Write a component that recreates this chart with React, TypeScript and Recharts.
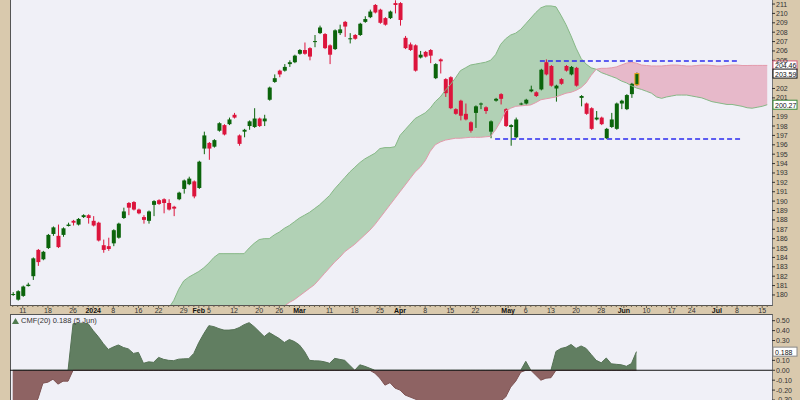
import React from 'react';
import { ComposedChart, Bar, Area, Line, XAxis, YAxis, ReferenceLine, ReferenceDot } from 'recharts';

// daily candles, index 0 = first visible session
const opens = [
  180.0, 179.5, 179.9, 180.95, 182.0, 184.8, 183.8, 185.0, 186.5, 186.3,
  186.4, 187.35, 187.9, 187.5, 188.3, 188.5, 187.9, 187.7, 185.3, 185.2,
  185.5, 186.1, 188.2, 189.8, 189.9, 189.1, 188.3, 187.9, 189.6, 190.1,
  190.2, 189.8, 189.4, 190.2, 191.3, 191.8, 192.1, 191.4, 195.6, 196.2,
  195.8, 197.5, 198.1, 198.2, 199.2, 197.0, 197.4, 198.0, 197.9, 198.8,
  198.5, 200.8, 202.7, 203.9, 203.9, 204.6, 204.8, 205.7, 206.1, 206.3,
  206.95, 207.9, 207.8, 206.6, 206.2, 207.9, 209.1, 207.25, 207.7, 207.7,
  209.1, 209.6, 210.9, 210.4, 209.5, 209.5, 211.1, 211.1, 207.4, 206.7,
  206.6, 205.3, 205.9, 206.1, 203.1, 205.1, 203.0, 203.2, 199.8, 200.7,
  199.3, 198.4, 199.4, 200.3, 200.0, 197.4, 200.7, 201.4, 199.8, 197.9,
  196.8, 200.3, 200.4, 201.7, 201.6, 201.9, 204.8, 204.4, 202.0, 203.0,
  204.4, 203.5, 204.2, 201.0, 200.4, 199.9, 198.7, 198.9, 196.7, 197.9,
  197.7, 200.4, 199.8, 201.4, 202.4,
];
const highs = [
  180.3, 180.5, 181.0, 181.3, 184.0, 184.9, 184.7, 186.5, 187.3, 187.5,
  187.2, 187.7, 188.0, 188.2, 188.6, 188.6, 188.4, 187.8, 185.9, 186.1,
  187.0, 187.7, 189.3, 189.9, 190.0, 189.2, 188.5, 189.0, 190.1, 190.2,
  190.3, 190.2, 189.5, 191.0, 192.3, 192.6, 192.2, 194.3, 197.4, 196.3,
  196.6, 198.4, 198.2, 198.9, 199.4, 197.1, 197.7, 198.6, 199.9, 198.9,
  199.2, 202.2, 203.5, 204.0, 204.6, 205.0, 205.6, 206.2, 206.9, 206.4,
  207.7, 208.7, 207.9, 206.7, 208.3, 208.8, 209.2, 207.9, 207.8, 209.0,
  209.7, 210.4, 211.0, 210.5, 209.6, 210.3, 211.4, 211.2, 207.6, 206.9,
  206.7, 206.0, 206.0, 206.2, 204.7, 205.2, 203.1, 203.3, 199.9, 200.8,
  200.4, 198.5, 200.2, 200.5, 200.1, 198.6, 201.0, 201.5, 199.9, 198.2,
  198.9, 200.5, 200.9, 202.3, 201.7, 204.1, 205.1, 204.5, 202.4, 203.1,
  204.5, 204.4, 204.3, 201.3, 200.5, 200.0, 199.6, 199.0, 197.8, 199.4,
  200.5, 200.8, 201.4, 202.6, 203.7,
];
const lows = [
  179.9, 179.4, 179.8, 180.9, 181.6, 183.1, 183.7, 184.9, 186.3, 185.0,
  186.2, 187.3, 187.4, 187.4, 188.2, 187.6, 187.3, 185.7, 184.5, 184.7,
  185.2, 186.0, 188.1, 188.5, 189.0, 188.6, 187.6, 187.6, 188.4, 189.6,
  188.7, 189.0, 188.4, 190.1, 190.8, 191.7, 190.3, 191.3, 195.0, 194.4,
  195.7, 197.4, 197.0, 198.1, 198.8, 195.9, 196.8, 197.6, 197.8, 197.9,
  198.0, 200.7, 202.6, 203.2, 203.8, 204.3, 204.7, 205.6, 205.6, 205.0,
  206.4, 207.8, 206.2, 204.6, 206.1, 207.7, 207.5, 206.8, 207.2, 207.6,
  209.0, 209.5, 210.0, 208.9, 208.7, 209.4, 210.0, 208.7, 206.2, 206.0,
  203.8, 205.2, 205.3, 204.7, 203.0, 203.6, 201.1, 199.8, 199.2, 198.6,
  198.6, 197.3, 197.8, 199.8, 199.3, 196.7, 200.6, 200.3, 197.9, 195.9,
  196.7, 200.2, 200.3, 201.6, 201.1, 201.8, 203.4, 202.2, 200.6, 202.4,
  203.8, 203.4, 202.2, 200.1, 199.2, 197.6, 198.6, 198.1, 196.6, 197.8,
  197.6, 199.8, 199.7, 201.0, 202.3,
];
const closes = [
  180.1, 180.4, 180.9, 181.1, 183.9, 183.5, 184.6, 186.4, 187.2, 185.1,
  187.1, 187.5, 187.7, 188.1, 188.5, 188.2, 187.4, 185.8, 184.8, 184.9,
  186.9, 187.6, 188.9, 189.3, 189.1, 188.7, 188.0, 188.9, 190.0, 189.7,
  189.8, 189.1, 189.2, 190.9, 192.2, 192.4, 190.5, 194.2, 197.0, 195.6,
  196.5, 198.3, 197.1, 198.7, 198.9, 196.1, 197.6, 198.5, 198.8, 198.0,
  198.8, 202.1, 203.1, 203.5, 204.3, 204.8, 205.5, 206.1, 205.7, 205.4,
  207.05, 208.5, 206.3, 205.6, 208.2, 208.3, 208.6, 207.35, 207.3, 208.9,
  209.4, 210.2, 210.1, 209.0, 208.8, 210.2, 210.9, 209.3, 206.3, 206.1,
  203.9, 205.6, 205.4, 205.5, 204.6, 204.9, 201.5, 199.9, 199.3, 199.1,
  198.7, 197.5, 200.1, 200.4, 199.6, 198.5, 200.9, 200.9, 198.0, 198.1,
  198.7, 200.4, 200.8, 201.9, 201.2, 204.0, 203.5, 202.3, 202.3, 202.5,
  203.9, 204.3, 202.3, 201.2, 199.3, 197.7, 198.9, 198.2, 197.7, 198.7,
  200.4, 200.7, 201.3, 202.5, 203.59,
];

// Ichimoku cloud spans (plotted 26 sessions ahead), starting at index 31
const cloudStart = 31;
const spanA = [
  178.6, 179.4, 180.6, 181.5, 181.9, 182.2, 182.5, 182.9, 183.4, 184.0,
  184.4, 184.4, 184.4, 184.4, 184.4, 184.4, 185.0, 185.5, 185.9, 186.0,
  186.0, 186.4, 186.7, 187.1, 187.4, 187.8, 188.2, 188.5, 188.8, 189.2,
  189.6, 190.1, 190.6, 191.3, 191.9, 192.5, 193.1, 193.6, 194.1, 194.5,
  194.8, 195.1, 195.6, 195.7, 195.7, 195.8, 197.0, 197.6, 198.2, 198.8,
  199.1, 199.4, 199.9, 200.6, 201.1, 201.8, 202.4, 203.1, 203.9, 204.2,
  204.5, 204.6, 204.7, 204.8, 205.0, 205.6, 206.7, 207.3, 207.7, 207.9,
  208.3, 208.9, 209.5, 210.1, 210.6, 210.8, 210.8, 210.7, 209.8, 208.8,
  207.6, 206.3, 205.2, 204.6, 204.2, 204.05, 203.7, 203.5, 203.3, 203.1,
  202.8, 202.6, 202.3, 202.05, 201.9, 201.7, 201.5, 201.1, 200.95, 201.1,
  201.2, 201.3, 201.3, 201.3, 201.2, 201.1, 201.0, 200.8, 200.6, 200.5,
  200.4, 200.3, 200.3, 200.2, 200.1, 199.95, 199.9, 200.0, 200.1, 200.27,
];
const spanB = [
  173.5, 173.7, 173.9, 174.1, 174.3, 174.5, 174.7, 175.0, 175.2, 175.4,
  175.6, 175.8, 176.0, 176.3, 176.5, 176.7, 177.0, 177.3, 177.6, 177.8,
  178.0, 178.2, 178.5, 178.8, 179.2, 179.5, 179.9, 180.3, 180.7, 181.1,
  181.7, 182.3, 182.9, 183.5, 184.0, 184.6, 185.0, 185.4, 185.9, 186.4,
  186.9, 187.5, 188.2, 188.9, 189.6, 190.3, 191.0, 191.7, 192.4, 193.1,
  193.6, 194.3, 195.3, 196.0, 196.3, 196.5, 196.6, 196.7, 196.7, 196.75,
  196.8, 196.8, 196.8, 196.85, 196.9, 197.6, 198.5, 199.6, 199.9, 200.1,
  200.15, 200.2, 200.25, 200.5, 200.8, 200.9, 201.0, 201.1, 201.3, 201.5,
  201.6, 201.8, 202.1, 202.6, 203.4, 204.05, 204.15, 204.15, 204.2, 204.3,
  204.5, 204.7, 204.8, 204.7, 204.5, 204.45, 204.4, 204.4, 204.4, 204.45,
  204.5, 204.5, 204.45, 204.4, 204.4, 204.45, 204.5, 204.5, 204.45, 204.4,
  204.4, 204.45, 204.5, 204.5, 204.45, 204.45, 204.46, 204.46, 204.46, 204.46,
];

// Chaikin Money Flow (20)
const cmf = [
  -0.45, -0.43, -0.40, -0.38, -0.36, -0.29, -0.13, -0.12, -0.09, -0.14,
  -0.11, -0.11, 0.47, 0.475, 0.475, 0.47, 0.40, 0.34, 0.27, 0.21,
  0.235, 0.255, 0.23, 0.215, 0.17, 0.18, 0.07, 0.085, 0.08, 0.13,
  0.11, 0.10, 0.097, 0.112, 0.115, 0.117, 0.17, 0.28, 0.37, 0.45,
  0.44, 0.42, 0.405, 0.405, 0.41, 0.43, 0.46, 0.48, 0.44, 0.39,
  0.34, 0.38, 0.35, 0.32, 0.28, 0.31, 0.29, 0.255, 0.19, 0.10,
  0.095, 0.094, 0.085, 0.07, 0.12, 0.11, 0.10, 0.05, 0.0, 0.055,
  0.04, 0.02, -0.03, -0.08, -0.15, -0.125, -0.18, -0.2, -0.25, -0.27,
  -0.29, -0.32, -0.34, -0.36, -0.38, -0.38, -0.40, -0.41, -0.40, -0.42,
  -0.40, -0.39, -0.38, -0.37, -0.36, -0.34, -0.33, -0.31, -0.27, -0.17,
  -0.11, -0.02, 0.09, 0.0, -0.05, -0.10, -0.08, -0.075, 0.19, 0.22,
  0.232, 0.26, 0.22, 0.245, 0.22, 0.16, 0.1, 0.075, 0.124, 0.065,
  0.06, 0.055, 0.04, 0.067, 0.188,
];

// date axis labels: [index, text, bold]
const dateTicks: [number, string, boolean][] = [
  [2, '11', false], [7, '18', false], [12, '26', false], [16, '2024', true],
  [20, '8', false], [25, '16', false], [29, '22', false], [34, '29', false],
  [37, 'Feb', true], [39, '5', false], [44, '12', false], [49, '20', false],
  [53, '26', false], [57, 'Mar', true], [63, '11', false], [68, '18', false],
  [73, '25', false], [77, 'Apr', true], [82, '8', false], [87, '15', false],
  [92, '22', false], [98.5, 'May', true], [102, '6', false], [107, '13', false],
  [112, '20', false], [117, '28', false], [121.5, 'Jun', true], [126, '10', false],
  [131, '17', false], [135, '24', false], [140, 'Jul', true], [144, '8', false],
  [149, '15', false],
];
// price labels hidden behind the value badges (200, 203, 204) are left out
const priceTicks = [
  180, 181, 182, 183, 184, 185, 186, 187, 188, 189, 190, 191, 192, 193, 194, 195,
  196, 197, 198, 199, 201, 202, 205, 206, 207, 208, 209, 210, 211,
];
const cmfTicks = [-0.3, -0.2, -0.1, 0, 0.1, 0.3, 0.4, 0.5];

const lastSpanA = 200.27;
const lastSpanB = 204.46;
const lastClose = 203.59;
const lastCmf = 0.188;

const N = 151;
const X_DOMAIN: [number, number] = [-0.54, 150.95];
const BG = '#f0f0f7';
const TAN = '#d9c9ad';

const rows = Array.from({ length: N }, (_, i) => {
  const has = i < opens.length;
  const a = i >= cloudStart ? spanA[i - cloudStart] : null;
  const b = i >= cloudStart ? spanB[i - cloudStart] : null;
  const c = i < cmf.length ? cmf[i] : null;
  return {
    i,
    open: has ? opens[i] : null,
    high: has ? highs[i] : null,
    low: has ? lows[i] : null,
    close: has ? closes[i] : null,
    candle: has ? [lows[i], highs[i]] : null,
    a,
    b,
    greenBand: a != null && b != null && a >= b ? [b, a] : null,
    pinkBand: a != null && b != null && a <= b ? [a, b] : null,
    cmfPos: c == null ? null : Math.max(c, 0),
    cmfNeg: c == null ? null : Math.min(c, 0),
  };
});

const allTicks = Array.from(new Set([...rows.map((r) => r.i), ...dateTicks.map((t) => t[0])])).sort((p, q) => p - q);

const Candle = (props: any) => {
  const { x, y, width, height, payload } = props;
  if (!payload || payload.open == null) return null;
  const { open, close, high, low, i } = payload;
  const cx = x + width / 2;
  const ppu = high > low ? height / (high - low) : 0;
  const yOf = (v: number) => y + (high - v) * ppu;
  const up = close >= open;
  const color = up ? '#0b640b' : '#dc143c';
  const top = yOf(Math.max(open, close));
  const bh = Math.max(1, yOf(Math.min(open, close)) - top);
  const isLast = i === opens.length - 1;
  return (
    <g>
      <line x1={cx} x2={cx} y1={y} y2={y + height} stroke={color} strokeWidth={1} />
      <rect x={cx - 2} y={top} width={4} height={bh} fill={color} stroke={isLast ? '#e8a317' : 'none'} strokeWidth={1} />
    </g>
  );
};

const DateTick = (props: any) => {
  const { x, y, payload } = props;
  const t = dateTicks.find((d) => d[0] === payload.value);
  const minor = Number.isInteger(payload.value);
  return (
    <g>
      {(minor || t) && <line x1={x} x2={x} y1={y} y2={y + (t ? 3 : 2)} stroke="#6a5f4d" strokeWidth={1} />}
      {t && (
        <text x={x} y={y + 8} textAnchor="middle" fontSize={7} fontWeight={t[2] ? 'bold' : 'normal'} fill={t[2] ? '#111' : '#333'}>
          {t[1]}
        </text>
      )}
    </g>
  );
};

const badge = (text: string, border: string) => (p: any) => (
  <g>
    <rect x={p.cx + 1} y={p.cy - 4.5} width={24} height={9} fill="#fff" stroke={border} strokeWidth={1} />
    <text x={p.cx + 3} y={p.cy + 3} fontSize={7} fill="#111">{text}</text>
  </g>
);

const axisTick = { fontSize: 7, fill: '#333' };

export default function App() {
  return (
    <div style={{ position: 'absolute', left: 0, top: 0, width: 800, height: 400, background: TAN, overflow: 'hidden', fontFamily: '"Liberation Sans", Arial, sans-serif' }}>
      <div style={{ position: 'absolute', left: 10, top: 0, width: 763, height: 306, background: BG, borderLeft: '1px solid #555', borderRight: '1px solid #777', borderBottom: '1px solid #555', boxSizing: 'border-box' }} />
      <div style={{ position: 'absolute', left: 10, top: 314, width: 763, height: 86, background: BG, borderLeft: '1px solid #555', borderRight: '1px solid #777', borderTop: '1px solid #555', boxSizing: 'border-box' }} />

      <div style={{ position: 'absolute', left: 0, top: 0 }}>
        <ComposedChart width={800} height={315} data={rows} margin={{ top: 0, right: 0, left: 10, bottom: 0 }}>
          <XAxis dataKey="i" type="number" domain={X_DOMAIN} allowDataOverflow ticks={allTicks} interval={0} height={10} tickSize={0} tickMargin={0} axisLine={false} tick={<DateTick />} />
          <YAxis orientation="right" width={28} type="number" domain={[178.93, 211.43]} allowDataOverflow ticks={priceTicks} interval={0} tickSize={3} tickMargin={1} axisLine={false} tickLine={{ stroke: '#333' }} tick={axisTick} />
          <Bar dataKey="candle" barSize={4} shape={<Candle />} isAnimationActive={false} />
          <Area type="linear" dataKey="greenBand" fill="#5aa85a" fillOpacity={0.42} stroke="none" isAnimationActive={false} />
          <Area type="linear" dataKey="pinkBand" fill="#dc6e8c" fillOpacity={0.42} stroke="none" isAnimationActive={false} />
          <Line type="linear" dataKey="a" stroke="#86b886" strokeWidth={1} dot={false} isAnimationActive={false} />
          <Line type="linear" dataKey="b" stroke="#e39aab" strokeWidth={1} dot={false} isAnimationActive={false} />
          <ReferenceLine segment={[{ x: 104.8, y: 204.93 }, { x: 144, y: 204.93 }]} stroke="#2b2bf0" strokeWidth={1.5} strokeDasharray="5 3" />
          <ReferenceLine segment={[{ x: 95.9, y: 196.62 }, { x: 144.6, y: 196.62 }]} stroke="#2b2bf0" strokeWidth={1.5} strokeDasharray="5 3" />
          <ReferenceDot x={X_DOMAIN[1]} y={lastSpanB} r={0} ifOverflow="visible" shape={badge(lastSpanB.toFixed(2), '#d9607f')} />
          <ReferenceDot x={X_DOMAIN[1]} y={lastClose} r={0} ifOverflow="visible" shape={badge(lastClose.toFixed(2), '#111')} />
          <ReferenceDot x={X_DOMAIN[1]} y={lastSpanA} r={0} ifOverflow="visible" shape={badge(lastSpanA.toFixed(2), '#3a8a3a')} />
        </ComposedChart>
      </div>

      <div style={{ position: 'absolute', left: 0, top: 315 }}>
        <ComposedChart width={800} height={85} data={rows} margin={{ top: 0, right: 0, left: 10, bottom: 0 }}>
          <XAxis dataKey="i" type="number" domain={X_DOMAIN} allowDataOverflow hide />
          <YAxis orientation="right" width={28} type="number" domain={[-0.3, 0.5575]} allowDataOverflow ticks={cmfTicks} interval={0} tickSize={3} tickMargin={1} axisLine={false} tickLine={{ stroke: '#333' }} tick={axisTick} tickFormatter={(v: number) => v.toFixed(2)} />
          <Area type="linear" dataKey="cmfPos" baseValue={0} fill="#617e61" fillOpacity={1} stroke="#557255" strokeWidth={1} isAnimationActive={false} />
          <Area type="linear" dataKey="cmfNeg" baseValue={0} fill="#8e6363" fillOpacity={1} stroke="#7e5353" strokeWidth={1} isAnimationActive={false} />
          <ReferenceLine y={0} stroke="#111" strokeWidth={1} />
          <ReferenceDot x={X_DOMAIN[1]} y={lastCmf} r={0} ifOverflow="visible" shape={badge(lastCmf.toFixed(3), '#888')} />
        </ComposedChart>
      </div>

      <div style={{ position: 'absolute', left: 12, top: 316, fontSize: 7.5, color: '#333', display: 'flex', alignItems: 'center', gap: 2, whiteSpace: 'nowrap' }}>
        <svg width={7} height={6}><polygon points="0,6 3.5,0 7,6" fill="#4f7a4f" /></svg>
        <span>CMF(20) 0.188 (5 Jun)</span>
      </div>
    </div>
  );
}
